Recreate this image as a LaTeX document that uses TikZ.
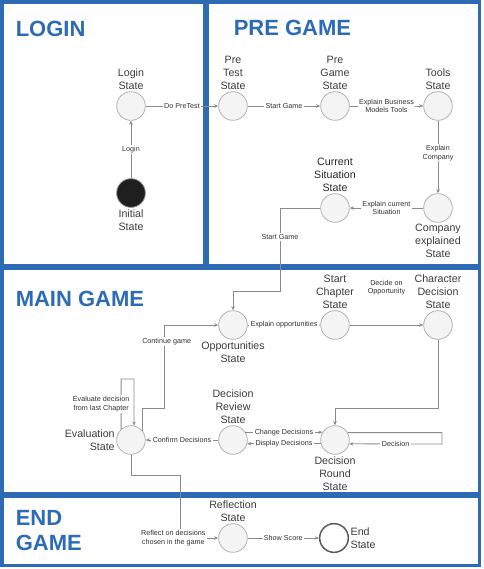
\documentclass[tikz,border=0pt]{standalone}
\usepackage{fontspec}
\setmainfont{Liberation Sans}
\usetikzlibrary{arrows.meta,positioning}
\definecolor{boxblue}{HTML}{2D6BB4}
\definecolor{stategray}{HTML}{F4F4F4}
\definecolor{linegray}{HTML}{8A8A8A}
\definecolor{txtgray}{HTML}{3C3C3C}
\begin{document}
\begin{tikzpicture}[x=0.75pt,y=-0.75pt,
  frame/.style={draw=boxblue,line width=2.3pt},
  title/.style={anchor=west,text=boxblue,font=\fontsize{16.5}{18.75}\selectfont\bfseries,inner sep=0pt,align=left},
  state/.style={circle,draw=black!30,fill=stategray,line width=0.6pt,minimum size=21.5pt,inner sep=0pt},
  every label/.style={text=txtgray,font=\fontsize{8}{9.75}\selectfont,align=center,inner sep=1pt},
  label distance=0pt,
  tr/.style={draw=linegray,line width=0.6pt,-{Stealth[length=3pt,width=2.6pt]}},
  el/.style={fill=white,text=black!80,font=\fontsize{5.4}{6.6}\selectfont,align=center,inner sep=1pt}]
\useasboundingbox (0,0) rectangle (484,569);
\draw[frame] (2,2) rectangle (205,266);
\draw[frame] (207.5,2) rectangle (479.5,266);
\draw[frame] (2,268.5) rectangle (479.5,494);
\draw[frame] (2,496.5) rectangle (479.5,565.5);
\node[title] (tlogin) at (15.5,29) {LOGIN};
\node[title] (tpre) at (233.5,28) {PRE GAME};
\node[title] (tmain) at (15.5,298.5) {MAIN GAME};
\node[title] (tend) at (15.5,530.5) {END\\GAME};

\node[state,label={above:{Login\\State}}] (login) at (131,106) {};
\node[state,fill=black!88,draw=black!45,label={below:{Initial\\State}}] (init) at (131,193) {};
\node[state,label={above:{Pre\\Test\\State}}] (pretest) at (233,106) {};
\node[state,label={above:{Pre\\Game\\State}}] (pregame) at (335,106) {};
\node[state,label={above:{Tools\\State}}] (tools) at (438,106) {};
\node[state,label={below:{Company\\explained\\State}}] (company) at (438,208) {};
\node[state,label={[text=black!85]above:{Current\\Situation\\State}}] (current) at (335,208) {};
\node[state,label={below:{Opportunities\\State}}] (opp) at (233,325) {};
\node[state,label={above:{Start\\Chapter\\State}}] (chapter) at (335,325) {};
\node[state,label={above:{Character\\Decision\\State}}] (chardec) at (438,325) {};
\node[state,label={above:{Decision\\Review\\State}}] (review) at (233,440) {};
\node[state,label={below:{Decision\\Round\\State}}] (decround) at (335,440) {};
\node[state,label={[align=right]left:{Evaluation\\State}}] (eval) at (131,440) {};
\node[state,label={above:{Reflection\\State}}] (reflect) at (233,538) {};
\node[state,fill=white,draw=black!65,line width=1.1pt,label={[align=left]right:{End\\State}}] (endst) at (334,538) {};

\draw[tr] (init) -- node[el]{Login} (login);
\draw[tr] (login) -- node[el]{Do PreTest} (pretest);
\draw[tr] (pretest) -- node[el]{Start Game} (pregame);
\draw[tr] (pregame) -- node[el]{Explain Business\\Models Tools} (tools);
\draw[tr] (tools) -- node[el,pos=0.45]{Explain\\Company} (company);
\draw[tr] (company) -- node[el]{Explain current\\Situation} (current);
\draw[tr] (current) -| (280,291) node[el,pos=0.675]{Start Game} -| (opp);
\draw[tr] (opp) -- node[el]{Explain opportunities} (chapter);
\draw[tr] (chapter) -- node[el,yshift=28pt]{Decide on\\Opportunity} (chardec);
\draw[tr] (chardec) |- (335,408) -- (decround);
\draw[tr] (review.32) -- node[el]{Change Decisions} (decround.148);
\draw[tr] (decround.195) -- node[el]{Display Decisions} (review.-15);
\draw[tr] (decround.30) -| (442,444) -- node[el]{Decision} (decround.-15);
\draw[tr] (review) -- node[el]{Confirm Decisions} (eval);
\draw[tr] (eval.132) |- node[el,pos=0.25,xshift=-15pt]{Evaluate decision\\from last Chapter} (134,379) -- (eval.78);
\draw[tr] (eval.37) |- (164,408) |- node[el,pos=0.4,xshift=2pt]{Continue game} (opp);
\draw[tr] (eval) |- (180,475) |- node[el,pos=0.5,xshift=-5pt]{Reflect on decisions\\chosen in the game} (reflect);
\draw[tr] (reflect) -- node[el]{Show Score} (endst);
\end{tikzpicture}
\end{document}
